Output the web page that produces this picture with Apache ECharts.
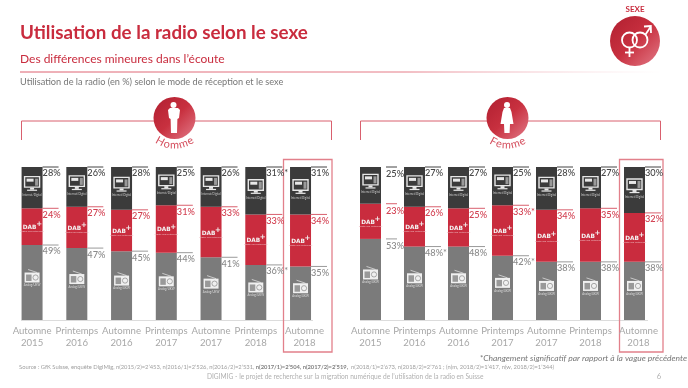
<!DOCTYPE html>
<html>
<head>
<meta charset="utf-8">
<title>Utilisation de la radio selon le sexe</title>
<script src="https://cdn.jsdelivr.net/npm/echarts@6/dist/echarts.min.js"></script>
<style>
html, body { margin: 0; padding: 0; background: #fff; }
#main { width: 688px; height: 388px; }
</style>
</head>
<body>
<div id="main"></div>
<script>
var categories = ['Automne\n2015', 'Printemps\n2016', 'Automne\n2016', 'Printemps\n2017', 'Automne\n2017', 'Printemps\n2018', 'Automne\n2018'];

var hommeAnalog = [49, 47, 45, 44, 41, 36, 35];
var hommeDab = [24, 27, 27, 31, 33, 33, 34];
var hommeInternet = [28, 26, 28, 25, 26, 31, 31];
var hommeAnalogStar = [5];
var hommeInternetStar = [5];

var femmeAnalog = [53, 48, 48, 42, 38, 38, 38];
var femmeDab = [23, 26, 25, 33, 34, 35, 32];
var femmeInternet = [25, 27, 27, 25, 28, 27, 30];
var femmeAnalogStar = [1, 3];
var femmeDabStar = [3];

var RED = '#c92c3e';
var DARK = '#3b3b3b';
var GREY = '#7b7b7b';
var FONT = 'Lato';

// grey / red / dark segment drawn with the same helper on both panels
function barSeries(idx, name, values, color, labelColor, stars, firstGap) {
    return {
        type: 'bar',
        name: name,
        stack: 'mode' + idx,
        xAxisIndex: idx,
        yAxisIndex: idx,
        barWidth: 21,
        silent: true,
        itemStyle: { color: color },
        data: values.map(function (v, i) {
            var item = {
                value: v,
                label: {
                    show: true,
                    position: ['100%', 2],
                    distance: 0,
                    formatter: v + '%' + (stars.indexOf(i) >= 0 ? '*' : ''),
                    color: labelColor,
                    fontFamily: FONT,
                    fontWeight: 500,
                    fontSize: 9.2
                }
            };
            if (i === 0 && firstGap) {
                item.label.position = [21 + firstGap, 3];
            }
            return item;
        })
    };
}

function monitorIcon(x, y) {
    return [
        { type: 'rect', shape: { x: x - 7.5, y: y - 11, width: 15, height: 10.5 }, style: { fill: 'none', stroke: '#e8e8e8', lineWidth: 1.4 } },
        { type: 'rect', shape: { x: x - 5.5, y: y - 9, width: 7, height: 3 }, style: { fill: '#e8e8e8' } },
        { type: 'rect', shape: { x: x + 3, y: y - 9, width: 3, height: 7 }, style: { fill: '#999' } },
        { type: 'rect', shape: { x: x - 2, y: y, width: 4, height: 2 }, style: { fill: '#e8e8e8' } },
        { type: 'rect', shape: { x: x - 5, y: y + 2, width: 10, height: 1.2 }, style: { fill: '#e8e8e8' } },
        { type: 'text', style: { x: x, y: y + 7, text: 'Internet/Digital', fill: '#ccc', fontSize: 2.8, fontFamily: FONT, align: 'center', verticalAlign: 'middle' } }
    ];
}

function dabIcon(x, y) {
    return [
        { type: 'text', style: { x: x - 2.5, y: y + 1, text: 'DAB', fill: '#f4f4f4', fontSize: 5.8, fontWeight: 900, fontFamily: 'DejaVu Sans', align: 'center', verticalAlign: 'middle' } },
        { type: 'text', style: { x: x + 7, y: y - 2, text: '+', fill: '#f4f4f4', fontSize: 7, fontWeight: 700, fontFamily: 'DejaVu Sans', align: 'center', verticalAlign: 'middle' } },
        { type: 'text', style: { x: x, y: y + 5, text: 'Digital und Unterwegs', fill: '#eebbc0', fontSize: 2.4, fontFamily: FONT, align: 'center', verticalAlign: 'middle' } }
    ];
}

function radioIcon(x, y) {
    return [
        { type: 'line', shape: { x1: x - 4, y1: y - 9, x2: x + 5, y2: y - 6 }, style: { stroke: '#ddd', lineWidth: 0.8 } },
        { type: 'rect', shape: { x: x - 7.5, y: y - 6, width: 15, height: 10 }, style: { fill: '#f0f0f0' } },
        { type: 'rect', shape: { x: x - 6, y: y - 4, width: 5.5, height: 6.5 }, style: { fill: '#999' } },
        { type: 'circle', shape: { cx: x + 3.5, cy: y - 1, r: 2.6 }, style: { fill: '#f0f0f0', stroke: '#888', lineWidth: 0.7 } },
        { type: 'text', style: { x: x, y: y + 7, text: 'Analog/UKW', fill: '#ddd', fontSize: 2.8, fontFamily: FONT, align: 'center', verticalAlign: 'middle' } }
    ];
}

// short rule above each label, plus the white icon in the segment
function decoSeries(idx, analog, dab, internet, firstGap) {
    var rows = [];
    analog.forEach(function (v, i) {
        rows.push([i, 0, v, 0]);
        rows.push([i, v, v + dab[i], 1]);
        rows.push([i, v + dab[i], Math.min(100, v + dab[i] + internet[i]), 2]);
    });
    var ruleColors = ['#9a9a9a', '#d9606e', '#444444'];
    return {
        type: 'custom',
        xAxisIndex: idx,
        yAxisIndex: idx,
        silent: true,
        clip: false,
        z: 5,
        data: rows,
        renderItem: function (params, api) {
            var cat = api.value(0), kind = api.value(3);
            var lo = api.coord([cat, api.value(1)]);
            var hi = api.coord([cat, api.value(2)]);
            var x = lo[0], mid = (lo[1] + hi[1]) / 2;
            var gap = cat === 0 ? firstGap : 0;
            var kids = [{
                type: 'line',
                shape: { x1: x + 10.5 + gap, y1: hi[1], x2: x + 26.5, y2: hi[1] },
                style: { stroke: ruleColors[kind], lineWidth: 1 }
            }];
            if (kind === 2) kids = kids.concat(monitorIcon(x, mid));
            if (kind === 1) kids = kids.concat(dabIcon(x, mid));
            if (kind === 0) kids = kids.concat(radioIcon(x, mid - 4));
            return { type: 'group', children: kids };
        }
    };
}

function axisX(idx) {
    return {
        type: 'category',
        gridIndex: idx,
        data: categories,
        axisLine: { show: false },
        axisTick: { show: false },
        axisLabel: {
            interval: 0,
            margin: 5,
            color: '#a8a8a8',
            fontFamily: FONT,
            fontSize: 9.6,
            lineHeight: 12,
            // the last label sits a little right of its bar, inside the highlight box
            formatter: function (value, i) {
                if (i === categories.length - 1) {
                    return value.split('\n').map(function (s) { return '{last|' + s + '}'; }).join('\n');
                }
                return value;
            },
            rich: {
                last: { color: '#a8a8a8', fontFamily: FONT, fontSize: 9.6, lineHeight: 12, padding: [0, 0, 0, 8] }
            }
        }
    };
}

function axisY(idx) {
    return { type: 'value', gridIndex: idx, min: 0, max: 100, show: false };
}

function arcText(str, cx, cy, r, size, color) {
    var ctx = document.createElement('canvas').getContext('2d');
    ctx.font = size + 'px ' + FONT;
    var total = ctx.measureText(str).width;
    var run = 0;
    return str.split('').map(function (ch) {
        var w = ctx.measureText(ch).width;
        var a = (run + w / 2 - total / 2) / r;
        run += w;
        return {
            type: 'text',
            x: cx + r * Math.sin(a),
            y: cy + r * Math.cos(a),
            rotation: a,
            style: { text: ch, fill: color, fontSize: size, fontFamily: FONT, align: 'center', verticalAlign: 'middle' }
        };
    });
}

function badge(cx, cy, r) {
    return {
        type: 'circle',
        shape: { cx: cx, cy: cy, r: r },
        style: {
            fill: new echarts.graphic.LinearGradient(0, 0, 1, 1, [
                { offset: 0, color: '#b01f30' },
                { offset: 0.5, color: '#c8303f' },
                { offset: 1, color: '#e27a88' }
            ])
        }
    };
}

function bracket(x1, x2, gapA, gapB) {
    var s = { stroke: '#d9606e', lineWidth: 1, fill: 'none' };
    return [
        { type: 'polyline', shape: { points: [[x1, 140], [x1, 121], [gapA, 121]] }, style: s },
        { type: 'polyline', shape: { points: [[gapB, 121], [x2, 121], [x2, 140]] }, style: s }
    ];
}

function highlight(x, w) {
    return { type: 'rect', shape: { x: x, y: 159.5, width: w, height: 192.5 }, style: { fill: 'none', stroke: '#e2808b', lineWidth: 1.3 } };
}

function baseline(x1, x2) {
    return { type: 'line', shape: { x1: x1, y1: 320.5, x2: x2, y2: 320.5 }, style: { stroke: '#dcdcdc', lineWidth: 1 } };
}

function silhouette(cx, cy, pts) {
    return {
        type: 'polygon',
        shape: { points: pts.map(function (p) { return [cx + p[0], cy + p[1]]; }) },
        style: { fill: '#fff' }
    };
}

var manShape = [[-4, -13], [4, -13], [6, -11], [5, -3], [3.4, -2], [3, 12], [-3, 12], [-3.4, -2], [-5, -3], [-6, -11]];
var womanShape = [[-3, -13], [3, -13], [4.5, -9], [6.5, 3], [3, 3], [2.6, 12], [-2.6, 12], [-3, 3], [-6.5, 3], [-4.5, -9]];

var decor = [].concat(
    [
        { type: 'text', style: { x: 20, y: 33, text: 'Utilisation de la radio selon le sexe', fill: RED, fontSize: 18.8, fontWeight: 700, fontFamily: FONT, verticalAlign: 'middle' } },
        { type: 'text', style: { x: 20, y: 59, text: 'Des différences mineures dans l’écoute', fill: RED, fontSize: 12, fontFamily: FONT, verticalAlign: 'middle' } },
        { type: 'text', style: { x: 20, y: 82, text: 'Utilisation de la radio (en %) selon le mode de réception et le sexe', fill: '#777', fontSize: 9.2, fontFamily: FONT, verticalAlign: 'middle' } },
        {
            type: 'line',
            shape: { x1: 20, y1: 72, x2: 660, y2: 72 },
            style: {
                lineWidth: 1,
                stroke: new echarts.graphic.LinearGradient(0, 0, 1, 0, [
                    { offset: 0, color: '#dd5f6e' },
                    { offset: 0.6, color: '#e57c88' },
                    { offset: 1, color: 'rgba(240,180,190,0)' }
                ])
            }
        },
        { type: 'text', style: { x: 635, y: 9, text: 'SEXE', fill: RED, fontSize: 8, fontWeight: 700, fontFamily: FONT, align: 'center', verticalAlign: 'middle' } },
        badge(635, 41, 25),
        { type: 'circle', shape: { cx: 629.5, cy: 40, r: 7.5 }, style: { fill: 'none', stroke: '#fff', lineWidth: 1.8 } },
        { type: 'circle', shape: { cx: 640, cy: 40, r: 7.5 }, style: { fill: 'none', stroke: '#fff', lineWidth: 1.8 } },
        { type: 'line', shape: { x1: 629.5, y1: 47.5, x2: 629.5, y2: 57 }, style: { stroke: '#fff', lineWidth: 1.8 } },
        { type: 'line', shape: { x1: 625, y1: 52.5, x2: 634, y2: 52.5 }, style: { stroke: '#fff', lineWidth: 1.8 } },
        { type: 'polyline', shape: { points: [[645.5, 34.5], [650.5, 27]] }, style: { stroke: '#fff', lineWidth: 1.8, fill: 'none' } },
        { type: 'polyline', shape: { points: [[644, 26.5], [650.8, 26], [651, 33]] }, style: { stroke: '#fff', lineWidth: 1.8, fill: 'none' } }
    ],
    bracket(21.5, 331.5, 155, 195),
    bracket(360.5, 660.5, 490, 528),
    [
        badge(174.5, 118, 21),
        badge(507.5, 118, 21),
        silhouette(174, 121, manShape),
        { type: 'circle', shape: { cx: 173.5, cy: 105, r: 3 }, style: { fill: '#fff' } },
        silhouette(507, 121, womanShape),
        { type: 'circle', shape: { cx: 507, cy: 105, r: 3 }, style: { fill: '#fff' } }
    ],
    arcText('Homme', 174.5, 115, 30, 11, '#d5505f'),
    arcText('Femme', 507.5, 115, 30, 11, '#d5505f'),
    [
        baseline(21, 313),
        baseline(360, 648),
        highlight(283.5, 48.5),
        highlight(619.5, 43.5),
        { type: 'text', style: { x: 687, y: 358, text: '*Changement significatif par rapport à la vague précédente', fill: '#777', fontSize: 8.5, fontStyle: 'italic', fontFamily: FONT, align: 'right', verticalAlign: 'middle' } },
        {
            type: 'text',
            style: {
                x: 19, y: 367,
                text: '{a|Source : GfK Suisse, enquête DigiMig, n(2015/2)=2’453, n(2016/1)=2’526, n(2016/2)=2’531, }{b|n(2017/1)=2’504, n(2017/2)=2’519,} {a|n(2018/1)=2’673, n(2018/2)=2’761 ; (n(m, 2018/2)=1’417, n(w, 2018/2)=1’344)}',
                verticalAlign: 'middle',
                fontFamily: FONT,
                rich: {
                    a: { fill: '#a0a0a0', fontSize: 5.8, fontFamily: FONT },
                    b: { fill: '#808080', fontSize: 5.8, fontWeight: 700, fontFamily: FONT }
                }
            }
        },
        { type: 'text', style: { x: 207, y: 377, text: 'DIGIMIG - le projet de recherche sur la migration numérique de l’utilisation de la radio en Suisse', fill: '#b0b0b0', fontSize: 6.6, fontFamily: FONT, verticalAlign: 'middle' } },
        { type: 'text', style: { x: 659, y: 377, text: '6', fill: '#b0b0b0', fontSize: 7.6, fontFamily: FONT, align: 'center', verticalAlign: 'middle' } }
    ]
);

var option = {
    animation: false,
    backgroundColor: '#fff',
    grid: [
        { left: 9.7, width: 313.2, top: 167, height: 153 },
        { left: 348.5, width: 308, top: 167, height: 153 }
    ],
    xAxis: [axisX(0), axisX(1)],
    yAxis: [axisY(0), axisY(1)],
    series: [
        barSeries(0, 'Analog/UKW', hommeAnalog, GREY, '#8a8a8a', hommeAnalogStar, 0),
        barSeries(0, 'DAB+', hommeDab, RED, '#d23f50', [], 0),
        barSeries(0, 'Internet/Digital', hommeInternet, DARK, '#444', hommeInternetStar, 0),
        decoSeries(0, hommeAnalog, hommeDab, hommeInternet, 0),
        barSeries(1, 'Analog/UKW', femmeAnalog, GREY, '#8a8a8a', femmeAnalogStar, 5),
        barSeries(1, 'DAB+', femmeDab, RED, '#d23f50', femmeDabStar, 5),
        barSeries(1, 'Internet/Digital', femmeInternet, DARK, '#444', [], 5),
        decoSeries(1, femmeAnalog, femmeDab, femmeInternet, 5)
    ],
    graphic: { elements: decor }
};

var myChart = echarts.init(document.getElementById('main'));
myChart.setOption(option);
</script>
</body>
</html>
